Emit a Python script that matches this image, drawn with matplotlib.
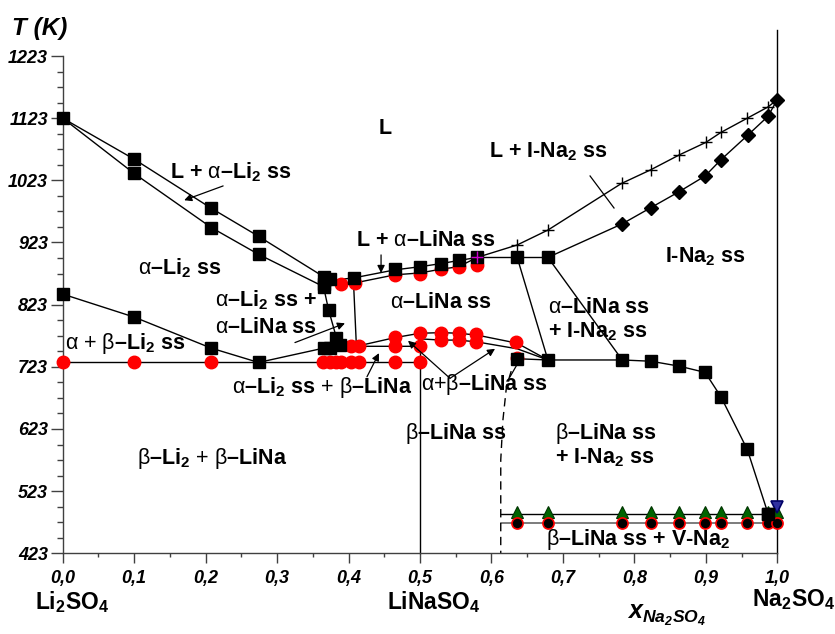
import matplotlib
matplotlib.use('Agg')
import matplotlib.pyplot as plt
from matplotlib.ticker import MultipleLocator, FixedLocator, FuncFormatter

plt.rcParams['font.family'] = ['Liberation Sans', 'DejaVu Sans']
plt.rcParams['mathtext.fontset'] = 'custom'
plt.rcParams['mathtext.rm'] = 'Liberation Sans'
plt.rcParams['mathtext.bf'] = 'Liberation Sans:bold'
plt.rcParams['mathtext.it'] = 'Liberation Sans:italic'
plt.rcParams['mathtext.bfit'] = 'Liberation Sans:italic:bold'

# ---------------- data (x = mole fraction Na2SO4, T in K) ----------------
# liquidus / solidus, Li2SO4 side
liq_li_x = [0.0, 0.100, 0.208, 0.274, 0.365]
liq_li_T = [1123, 1057, 978, 933, 868]
sol_li_x = [0.0, 0.100, 0.208, 0.274, 0.365]
sol_li_T = [1123, 1034, 947, 904, 852]
# liquidus / solidus of alpha-LiNa ss
liq_mid_x = [0.365, 0.375, 0.407, 0.465, 0.500, 0.529, 0.554, 0.580]
liq_mid_T = [868, 862, 866, 879, 884, 889, 894, 899]
sol_mid_x = [0.365, 0.389, 0.409, 0.465, 0.500, 0.529, 0.554, 0.580]
sol_mid_T = [852, 856, 858, 871, 874, 880, 884, 899]
# peritectic line
peri_x = [0.580, 0.636, 0.679]
peri_T = [899, 899, 899]
# liquidus / solidus, Na2SO4 side
liq_na_x = [0.580, 0.636, 0.679, 0.782, 0.823, 0.863, 0.900, 0.921, 0.958, 0.987, 1.0]
liq_na_T = [899, 919, 943, 1018, 1040, 1064, 1084, 1100, 1123, 1141, 1153]
sol_na_x = [0.679, 0.783, 0.823, 0.863, 0.899, 0.921, 0.959, 0.987, 1.0]
sol_na_T = [899, 953, 979, 1005, 1030, 1056, 1096, 1126, 1153]
# solid-state boundaries
sv_li_x = [0.365, 0.372, 0.383, 0.385]
sv_li_T = [852, 815, 770, 757]
sv_lina_x = [0.407, 0.411]
sv_lina_T = [858, 756]
ab_li_x = [0.0, 0.100, 0.208, 0.274, 0.365, 0.388, 0.411, 0.500]
ab_li_T = [840, 803, 753, 730, 753, 757, 756, 756]
eut_x = [0.0, 0.500]
eut_T = [730, 730]
arch_x = [0.411, 0.465, 0.500, 0.530, 0.554, 0.580, 0.636, 0.679]
arch_T = [756, 770, 777, 778, 777, 774, 761, 734]
inner_x = [0.500, 0.529, 0.554, 0.580, 0.636, 0.679]
inner_T = [768, 766, 766, 763, 752, 734]
short_x = [0.636, 0.679]
short_T = [736, 734]
bnd1_x = [0.636, 0.679]
bnd1_T = [899, 734]
bnd2_x = [0.679, 0.783]
bnd2_T = [899, 734]
solv_na_x = [0.679, 0.783, 0.823, 0.863, 0.899, 0.921, 0.958, 0.987]
solv_na_T = [734, 734, 732, 724, 714, 675, 590, 487]
dash_x = [0.636, 0.630, 0.621, 0.616, 0.613, 0.613]
dash_T = [736, 725, 691, 637, 573, 423]
low_x = [0.613, 1.0]
low1_T = [486, 486]
low2_T = [471, 471]
vert05_T = [778, 423]
vert10_T = [423, 1265]

# markers
sq_x = [0.0, 0.100, 0.208, 0.274, 0.365, 0.100, 0.208, 0.274, 0.365,
        0.0, 0.100, 0.208, 0.274, 0.374, 0.366, 0.407, 0.372, 0.383,
        0.365, 0.374, 0.388, 0.465, 0.500, 0.529, 0.554, 0.580, 0.636, 0.679,
        0.636, 0.679, 0.783, 0.823, 0.863, 0.899, 0.921, 0.958, 0.987]
sq_T = [1123, 1057, 978, 933, 868, 1034, 947, 904, 852,
        840, 803, 753, 730, 865, 857, 866, 815, 770,
        753, 754, 758, 880, 884, 889, 895, 899, 899, 899,
        736, 734, 734, 732, 724, 714, 675, 590, 487]
rc_x = [0.0, 0.100, 0.208, 0.364, 0.374, 0.383, 0.390, 0.404, 0.414, 0.465, 0.500,
        0.404, 0.414, 0.465, 0.500,
        0.465, 0.500, 0.529, 0.554, 0.579, 0.529, 0.554, 0.579, 0.635, 0.636,
        0.389, 0.409, 0.465, 0.500, 0.529, 0.554, 0.580]
rc_T = [730, 730, 730, 730, 730, 730, 730, 730, 730, 731, 731,
        756, 756, 756, 756,
        771, 778, 778, 778, 775, 766, 766, 763, 763, 737,
        856, 858, 871, 873, 880, 883, 886]
plus_x = [0.636, 0.679, 0.782, 0.823, 0.863, 0.900, 0.921, 0.958, 0.987]
plus_T = [919, 943, 1018, 1040, 1064, 1084, 1100, 1123, 1141]
dia_x = [0.783, 0.823, 0.863, 0.899, 0.921, 0.959, 0.987, 1.0]
dia_T = [953, 979, 1005, 1030, 1056, 1096, 1126, 1153]
tri_x = [0.636, 0.679, 0.783, 0.823, 0.863, 0.899, 0.921, 0.958, 0.987, 1.0]
tri_T = [490] * 10
bc_x = [0.636, 0.679, 0.783, 0.823, 0.863, 0.899, 0.921, 0.958, 0.987, 1.0]
bc_T = [471] * 10
inv_x = [1.0]
inv_T = [498]

x_ticks = [0.0, 0.1, 0.2, 0.3, 0.4, 0.5, 0.6, 0.7, 0.8, 0.9, 1.0]
y_ticks = [423, 523, 623, 723, 823, 923, 1023, 1123, 1223]

# ---------------- figure ----------------
W, H = 835, 634
fig = plt.figure(figsize=(W / 100, H / 100), dpi=100)
ax = fig.add_axes([62.7 / W, 1 - 553.3 / H, (777.3 - 62.7) / W, (553.3 - 29.9) / H])
ax.set_xlim(0, 1)
ax.set_ylim(423, 1265)

lk = dict(color='black', lw=1.0, zorder=2, clip_on=False)
for xs, ts in [(liq_li_x, liq_li_T), (sol_li_x, sol_li_T), (liq_mid_x, liq_mid_T),
               (sol_mid_x, sol_mid_T), (peri_x, peri_T), (liq_na_x, liq_na_T),
               (sol_na_x, sol_na_T), (sv_li_x, sv_li_T), (sv_lina_x, sv_lina_T),
               (ab_li_x, ab_li_T), (eut_x, eut_T), (arch_x, arch_T), (inner_x, inner_T),
               (short_x, short_T), (bnd1_x, bnd1_T), (bnd2_x, bnd2_T),
               (solv_na_x, solv_na_T), (low_x, low1_T)]:
    ax.plot(xs, ts, **lk)
ax.plot(low_x, low2_T, color='#666666', lw=1.2, zorder=2, clip_on=False)
ax.plot(dash_x, dash_T, color='black', lw=1.0, ls=(0, (6, 4)), zorder=2, clip_on=False)
ax.plot([0.5, 0.5], vert05_T, **lk)
ax.plot([1.0, 1.0], vert10_T, **lk)

mk = dict(ls='none', clip_on=False)
ax.plot(rc_x, rc_T, marker='o', ms=9, mfc='#ff0000', mec='#ff0000', zorder=3, **mk)
ax.plot(sq_x, sq_T, marker='s', ms=8.5, mfc='black', mec='black', zorder=4, **mk)
ax.plot(plus_x, plus_T, marker='+', ms=9, mew=1.0, color='black', zorder=4, **mk)
ax.plot([0.580], [899], marker='+', ms=9, mew=1.0, color='#cc00cc', zorder=5, **mk)
ax.plot(dia_x, dia_T, marker='D', ms=7.5, mfc='black', mec='black', zorder=4, **mk)
ax.plot(tri_x, tri_T, marker='^', ms=8, mfc='#006400', mec='#003300', mew=0.8, zorder=4, **mk)
ax.plot(bc_x, bc_T, marker='o', ms=8, mfc='black', mec='#ff0000', mew=1.2, zorder=4, **mk)
ax.plot(inv_x, inv_T, marker='v', ms=9, mfc='#3030a0', mec='#000066', mew=1.2, zorder=5, **mk)
ax.plot([0.987], [487], marker='s', ms=8.5, mfc='black', mec='black', zorder=6, **mk)

# axes styling
for s in ['top', 'right']:
    ax.spines[s].set_visible(False)
ax.spines['left'].set_bounds(423, 1223)
ax.spines['bottom'].set_bounds(0, 1)
for s in ['left', 'bottom']:
    ax.spines[s].set_color('#404040')
    ax.spines[s].set_linewidth(1.0)
ax.xaxis.set_major_locator(FixedLocator(x_ticks))
ax.xaxis.set_minor_locator(MultipleLocator(0.05))
ax.yaxis.set_major_locator(FixedLocator(y_ticks))
ax.yaxis.set_minor_locator(FixedLocator([423 + 25 * i for i in range(33)]))
ax.xaxis.set_major_formatter(FuncFormatter(lambda v, p: ('%.1f' % v).replace('.', ',')))
ax.yaxis.set_major_formatter(FuncFormatter(lambda v, p: '%d' % round(v)))
ax.tick_params(axis='y', which='major', length=9, width=1, color='#404040', pad=1.5, labelsize=13)
ax.tick_params(axis='y', which='minor', length=4, width=1, color='#404040')
ax.tick_params(axis='x', which='major', length=7, width=1, color='#404040', pad=5, labelsize=13)
ax.tick_params(axis='x', which='minor', length=3, width=1, color='#404040')
for lab in ax.get_xticklabels() + ax.get_yticklabels():
    lab.set_fontweight('bold')
    lab.set_fontstyle('italic')

# ---------------- labels ----------------
A = r'$\mathrm{\alpha}$'
B = r'$\mathrm{\beta}$'
P = r'$\mathrm{+}$'
S2 = r'$_\mathbf{2}$'
S4 = r'$_\mathbf{4}$'
fs = 15.5
tk = dict(fontsize=fs, fontweight='bold', zorder=6)

ax.text(0.451, 1107, 'L', ha='center', va='center', **tk)
ax.text(0.2355, 1036, 'L + ' + A + '–Li' + S2 + ' ss', ha='center', va='center', **tk)
ax.text(0.164, 882, A + '–Li' + S2 + ' ss', ha='center', va='center', **tk)
ax.text(0.508, 927, 'L + ' + A + '–LiNa ss', ha='center', va='center', **tk)
ax.text(0.679, 1069, 'L + I-Na' + S2 + ' ss', ha='center', va='center', **tk)
ax.text(0.899, 900, 'I-Na' + S2 + ' ss', ha='center', va='center', **tk)
ax.text(0.529, 826, A + '–LiNa ss', ha='center', va='center', **tk)
ax.text(0.213, 830, A + '–Li' + S2 + ' ss +', ha='left', va='center', **tk)
ax.text(0.213, 787, A + '–LiNa ss', ha='left', va='center', **tk)
ax.text(0.087, 761, A + ' ' + P + ' ' + B + '–Li' + S2 + ' ss', ha='center', va='center', **tk)
ax.text(0.363, 690, A + '–Li' + S2 + ' ss ' + P + ' ' + B + '–LiNa', ha='center', va='center', **tk)
ax.text(0.590, 694, A + P + B + '–LiNa ss', ha='center', va='center', **tk)
ax.text(0.679, 819, A + '–LiNa ss', ha='left', va='center', **tk)
ax.text(0.679, 779, '+ I-Na' + S2 + ' ss', ha='left', va='center', **tk)
ax.text(0.550, 616, B + '–LiNa ss', ha='center', va='center', **tk)
ax.text(0.689, 616, B + '–LiNa ss', ha='left', va='center', **tk)
ax.text(0.689, 576, '+ I-Na' + S2 + ' ss', ha='left', va='center', **tk)
ax.text(0.209, 575, B + '–Li' + S2 + ' ' + P + ' ' + B + '–LiNa', ha='center', va='center', **tk)
ax.text(0.805, 446, B + '–LiNa ss + V-Na' + S2, ha='center', va='center', **tk)

# arrows / pointer lines
ap = dict(arrowstyle='-|>', color='black', lw=0.9, mutation_scale=11, shrinkA=0, shrinkB=0)
ax.annotate('', xy=(0.170, 991), xytext=(0.2245, 1014), arrowprops=ap)
ax.annotate('', xy=(0.4455, 874), xytext=(0.4455, 903), arrowprops=ap)
ax.annotate('', xy=(0.395, 793), xytext=(0.325, 762), arrowprops=ap)
ax.annotate('', xy=(0.4426, 745), xytext=(0.4258, 707), arrowprops=ap)
ax.annotate('', xy=(0.4832, 765), xytext=(0.542, 704.5), arrowprops=ap)
ax.annotate('', xy=(0.605, 752), xytext=(0.542, 704.5), arrowprops=ap)
ax.plot([0.738, 0.7715], [1030, 978.5], color='black', lw=0.9, zorder=2)
ax.plot([0.626, 0.637], [707, 729], color='black', lw=0.9, zorder=2)

# outer labels (figure pixel coordinates)
def ftext(px, py, s, **kw):
    fig.text(px / W, 1 - py / H, s, **kw)

ftext(40, 28, 'T (K)', fontsize=17.5, fontweight='bold', fontstyle='italic', ha='center', va='center')
ftext(72, 602, 'Li' + S2 + 'SO' + S4, fontsize=16.5, fontweight='bold', ha='center', va='center')
ftext(434, 602, 'LiNaSO' + S4, fontsize=16.5, fontweight='bold', ha='center', va='center')
ftext(794, 600, 'Na' + S2 + 'SO' + S4, fontsize=16.5, fontweight='bold', ha='center', va='center')
ftext(667, 615, r'$\mathbfit{x}_{\mathbfit{Na_2SO_4}}$', fontsize=18, ha='center', va='center')

fig.savefig('out.png', dpi=100)
